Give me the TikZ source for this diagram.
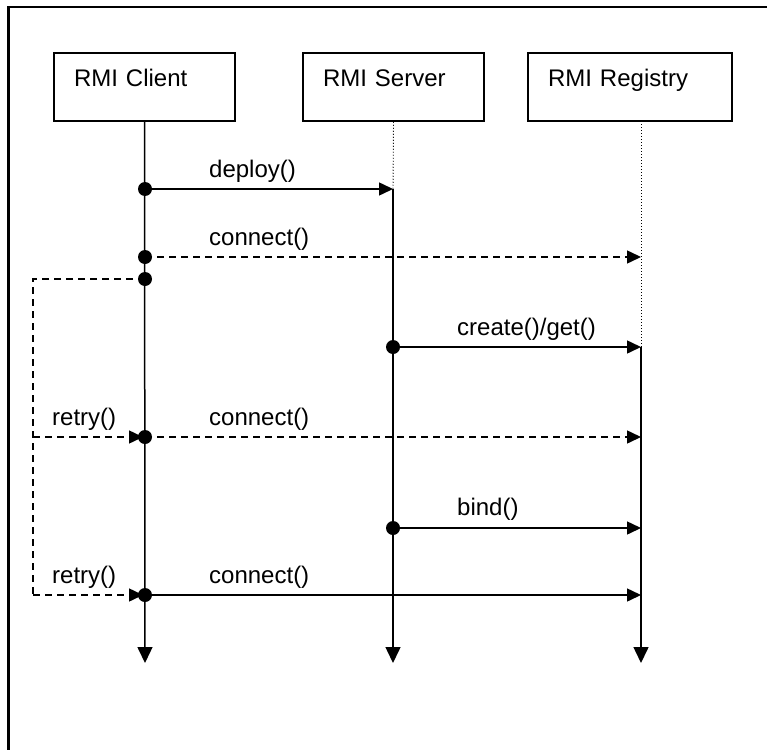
\documentclass[tikz,border=0pt]{standalone}
\usepackage{fontspec}
\setmainfont{Liberation Sans}
\usetikzlibrary{arrows.meta}
\begin{document}
\begin{tikzpicture}[x=1pt,y=-1pt,
  txt/.style={font=\fontsize{24}{28}\selectfont},
  actor/.style={draw, line width=1.5pt, minimum height=68pt, inner xsep=20pt,
    inner ysep=0pt, text height=17.5pt, text depth=17.5pt, align=left, txt},
  idle/.style={line width=0.9pt, dash pattern=on 1pt off 2pt},
  life/.style={line width=1.5pt, -{Triangle[length=16pt,width=15pt]}},
  msg/.style={line width=1.5pt, -{Triangle[length=14pt,width=13pt]}},
  async/.style={msg, dash pattern=on 7pt off 5pt},
  loopline/.style={line width=1.5pt, dash pattern=on 7pt off 5pt},
  dot/.style={circle, fill, inner sep=0pt, minimum size=14pt},
  lbl/.style={anchor=base west, inner sep=0pt, txt},
]
\useasboundingbox (0,0) rectangle (767,749);

% outer frame, running off the right and bottom edges
\begin{scope}
  \clip (0,0) rectangle (767,749);
  \draw[line width=2.5pt] (8.5,7) rectangle (800,800);
\end{scope}

% participants
\node[actor, text width=141pt] (client)   at (144.5,87) {RMI Client};
\node[actor, text width=141pt] (server)   at (393.5,87) {RMI Server};
\node[actor, text width=164pt] (registry) at (630,87)   {RMI Registry};

% lifeline anchors
\coordinate (rTop) at (641,121);
\coordinate (cEnd) at (145,663);
\coordinate (sEnd) at (393,663);
\coordinate (rEnd) at (641,663);

% message end points
\coordinate (s1) at (393,189);
\coordinate (r2) at (641,257);
\coordinate (r4) at (641,347);
\coordinate (r5) at (641,437);
\coordinate (r6) at (641,528);
\coordinate (r7) at (641,595);

% retry loop corners
\coordinate (lp1) at (33,279);
\coordinate (lp2) at (33,437);
\coordinate (lp3) at (33,595);

% activation dots
\node[dot] (d1) at (145,189) {};
\node[dot] (d2) at (145,257) {};
\node[dot] (d3) at (145,279) {};
\node[dot] (d4) at (393,347) {};
\node[dot] (d5) at (145,437) {};
\node[dot] (d6) at (393,528) {};
\node[dot] (d7) at (145,595) {};

% lifelines
\draw[life] (client.south) -- (cEnd);
\draw[idle] (server.south) -- (s1);
\draw[life] (s1) -- (sEnd);
\draw[idle] (rTop) -- (r4);
\draw[life] (r4) -- (rEnd);

% messages
\draw[msg]   (d1.center) -- (s1);
\draw[async] (d2.center) -- (r2);
\draw[msg]   (d4.center) -- (r4);
\draw[async] (d5.center) -- (r5);
\draw[msg]   (d6.center) -- (r6);
\draw[msg]   (d7.center) -- (r7);

% retry loop
\draw[loopline] (d3.center) -- (lp1) -- (lp3);
\draw[async, shorten >=2pt] (lp2) -- (d5.center);
\draw[async, shorten >=2pt] (lp3) -- (d7.center);

% labels
\node[lbl] (l1) at (209,177) {deploy()};
\node[lbl] (l2) at (209,245) {connect()};
\node[lbl] (l3) at (457,335) {create()/get()};
\node[lbl] (l4) at (52,425)  {retry()};
\node[lbl] (l5) at (209,425) {connect()};
\node[lbl] (l6) at (457,515) {bind()};
\node[lbl] (l7) at (52,583)  {retry()};
\node[lbl] (l8) at (209,583) {connect()};
\end{tikzpicture}
\end{document}
